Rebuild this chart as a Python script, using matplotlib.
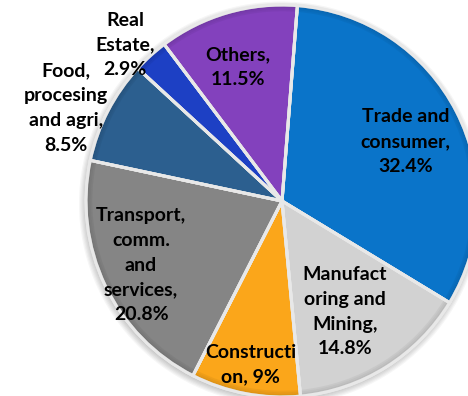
import numpy as np
import matplotlib
matplotlib.use('Agg')
import matplotlib.pyplot as plt
from matplotlib.patches import Wedge
from matplotlib.colors import to_rgb

plt.rcParams['font.family'] = ['Lato', 'DejaVu Sans']

# sector shares (%), clockwise from the top
labels = ['Trade and\nconsumer,\n32.4%',
          'Manufact\noring and\nMining,\n14.8%',
          'Constructi\non, 9%',
          'Transport,\ncomm.\nand\nservices,\n20.8%',
          'Food,\nprocesing\nand agri,\n8.5%',
          'Real\nEstate,\n2.9%',
          'Others,\n11.5%']
shares = [32.4, 14.8, 9.0, 20.8, 8.5, 2.9, 11.5]
colors = ['#0a74c9', '#d2d2d2', '#fba61a', '#858585', '#2c5f8f', '#1d40c4', '#8341bd']

# label placement: radius (fraction of pie radius) and turn off the mid-angle (deg)
label_r = [0.70, 0.65, 0.85, 0.79, 1.20, 1.13, 0.72]
label_turn = [-1.5, -2.5, 0.0, -1.0, 4.0, 3.0, 2.0]

fig = plt.figure(figsize=(4.68, 3.96), dpi=100)
R = 196.0
cx, cy = 282.0, 396.0 - 201.0
ax = fig.add_axes([(cx - R) / 468, (cy - R) / 396, 2 * R / 468, 2 * R / 396])

# soft shadow round the rim
for k in range(6):
    sh = plt.Circle((-0.006, -0.012), 1.0 + 0.006 * k, color='#000000',
                    alpha=0.035, lw=0, zorder=0, clip_on=False)
    ax.add_patch(sh)

wedges, _ = ax.pie(shares, colors=colors, startangle=85.5, counterclock=False,
                   radius=1.0,
                   wedgeprops=dict(edgecolor='#e8e8e8', linewidth=2.2, clip_on=False))

# bevel: darker rim on each slice
for w, c in zip(wedges, colors):
    w.set_zorder(1)
    rgb = np.array(to_rgb(c))
    dark = tuple(rgb * 0.75)
    for i in range(4):
        ax.add_patch(Wedge((0, 0), 1.0 - 0.008 * i, w.theta1, w.theta2, width=0.008,
                           color=dark, alpha=0.55 - 0.12 * i, lw=0, zorder=2,
                           clip_on=False))
    ax.add_patch(Wedge((0, 0), 1.0, w.theta1, w.theta2, fill=False,
                       edgecolor='#e8e8e8', lw=2.2, zorder=3, clip_on=False))

for w, lab, r, turn in zip(wedges, labels, label_r, label_turn):
    mid = np.deg2rad((w.theta1 + w.theta2) / 2 + turn)
    ax.text(r * np.cos(mid), r * np.sin(mid), lab, ha='center', va='center',
            fontsize=14, fontweight='bold', color='black', linespacing=1.55,
            zorder=5)

ax.set_xlim(-1, 1)
ax.set_ylim(-1, 1)
ax.axis('off')

fig.savefig('out.png', dpi=100)
